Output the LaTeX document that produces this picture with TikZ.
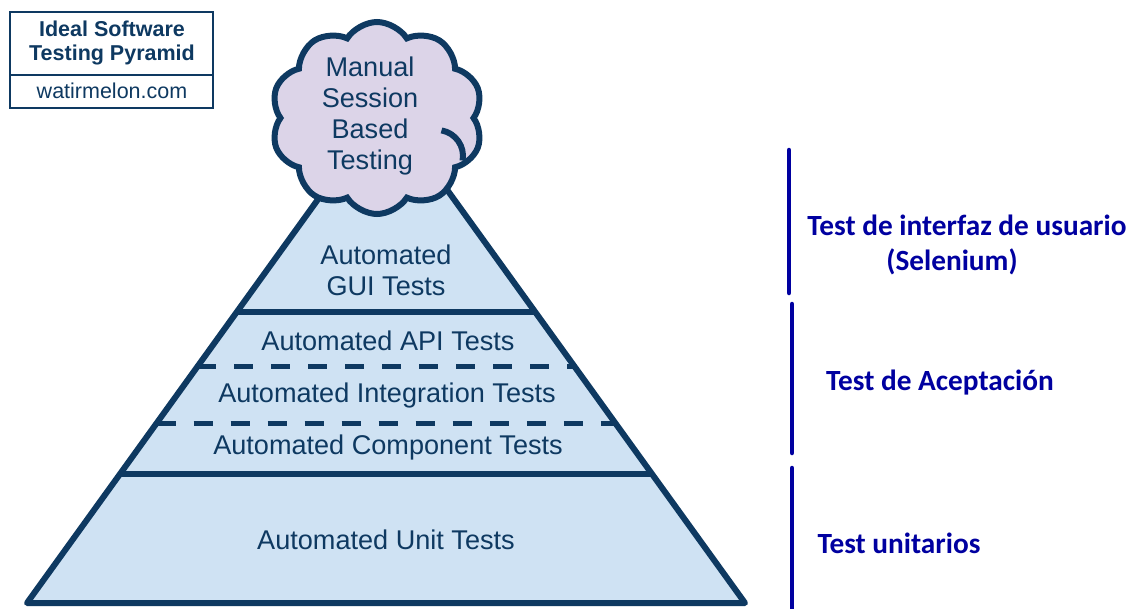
\documentclass[tikz,border=0pt]{standalone}
\usepackage{fontspec}
\setmainfont{Liberation Sans}
\newfontfamily\labelfont{Carlito}
\usetikzlibrary{shapes.symbols,calc}
\definecolor{navy}{RGB}{14,57,97}
\definecolor{pyrfill}{RGB}{207,226,243}
\definecolor{cloudfill}{RGB}{220,212,232}
\definecolor{labelblue}{RGB}{0,0,160}
\begin{document}
\begin{tikzpicture}[x=1pt,y=-1pt,
  layertext/.style={text=navy,font=\fontsize{27.1}{30.7}\selectfont,align=center,inner sep=0pt},
  boxtext/.style={text=navy,font=\fontsize{21.5}{24}\selectfont,align=center,inner sep=0pt},
  sidelabel/.style={text=labelblue,font=\labelfont\bfseries\fontsize{29.3}{35}\selectfont,inner sep=0pt},
  bracket/.style={draw=labelblue,line width=4.5pt,line cap=round},
  solidrule/.style={draw=navy,line width=6pt},
  dashrule/.style={draw=navy,line width=5pt,dash pattern=on 19pt off 18pt}]
\useasboundingbox (0,0) rectangle (1135,608);
\fill[white] (0,0) rectangle (1135,608);

% pyramid outline
\coordinate (apex) at (386,105);
\coordinate (bl) at (27,603);
\coordinate (br) at (745,603);
\filldraw[fill=pyrfill,draw=navy,line width=6pt,line join=round] (bl) -- (apex) -- (br) -- cycle;

% layer boundaries
\draw[solidrule] ($(apex)!0.4157!(bl)$) -- ($(apex)!0.4157!(br)$);
\draw[dashrule]  ($(apex)!0.5261!(bl)$) -- ($(apex)!0.5261!(br)$);
\draw[dashrule]  ($(apex)!0.6386!(bl)$) -- ($(apex)!0.6386!(br)$);
\draw[solidrule] ($(apex)!0.7410!(bl)$) -- ($(apex)!0.7410!(br)$);

% layer labels
\node[layertext] (gui)  at (386,270) {Automated\\GUI Tests};
\node[layertext] (api)  at (388,341) {Automated API Tests};
\node[layertext] (intg) at (387,395) {Automated Integration Tests};
\node[layertext] (comp) at (388,447) {Automated Component Tests};
\node[layertext] (unit) at (386,540) {Automated Unit Tests};

% manual testing cloud on top
\node[cloud, cloud puffs=10, cloud puff arc=115, aspect=1.1, draw=navy, fill=cloudfill,
      line width=6pt, minimum width=212pt, minimum height=192pt, inner sep=0pt] (cloud) at (377,118) {};
\draw[navy,line width=6pt] (441.5,130.4) arc[start angle=-80,end angle=10,radius=26];
\node[layertext] (manual) at (370,116) {Manual\\Session\\Based\\Testing};

% title box
\draw[navy,line width=2.7pt] (10,12) rectangle (213,108);
\draw[navy,line width=2.7pt] (10,75) -- (213,75);
\node[boxtext,font=\bfseries\fontsize{21.5}{24}\selectfont] (title) at (112,43) {Ideal Software\\Testing Pyramid};
\node[boxtext] (site) at (112,91) {watirmelon.com};

% side brackets and labels
\draw[bracket] (789,150) -- (789,293);
\draw[bracket] (792,304) -- (792,453);
\draw[bracket] (792,468) -- (792,615);
\node[sidelabel] (ui1) at (967,225) {Test de interfaz de usuario};
\node[sidelabel] (ui2) at (952,262) {(Selenium)};
\node[sidelabel] (acc) at (940,383) {Test de Aceptación};
\node[sidelabel] (ut)  at (899,543) {Test unitarios};
\end{tikzpicture}
\end{document}
